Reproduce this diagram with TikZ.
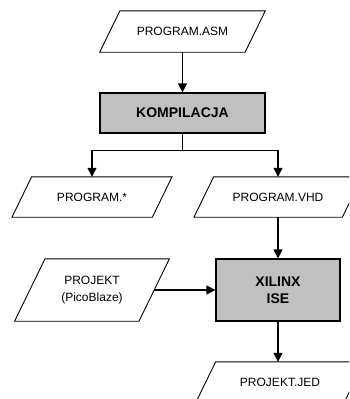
\documentclass[tikz,border=0pt]{standalone}
\usepackage{fontspec}
\setmainfont{Liberation Sans}
\usepackage{tikz}
\usetikzlibrary{arrows.meta,positioning,calc}

\definecolor{szary}{RGB}{192,192,192}
\tikzset{
  plik/.style={rectangle, inner sep=0pt, minimum height=40pt, align=center,
    font=\fontsize{12}{16.5}\selectfont,
    append after command={\pgfextra{\let\plikn\tikzlastnode
      \draw[line width=0.9pt] let \p1=($(\plikn.north east)-(\plikn.south west)$),
        \n1={0.244*\y1} in
        ($(\plikn.south west)+(-\n1,0pt)$) -- ($(\plikn.north west)+(\n1,0pt)$)
        -- ($(\plikn.north east)+(\n1,0pt)$) -- ($(\plikn.south east)+(-\n1,0pt)$)
        -- cycle;}}},
  krok/.style={rectangle, draw, fill=szary, line width=1.2pt, inner sep=0pt,
    align=center, font=\bfseries\fontsize{14}{17}\selectfont},
  strz/.style={-{Triangle[length=9pt,width=9pt]}, line width=1.2pt}
}

\begin{document}
\begin{tikzpicture}[x=1pt,y=-1pt]
      \useasboundingbox (0,0) rectangle (349,399);
      \clip (0,0) rectangle (349,399);
      \node[plik,minimum width=145pt,minimum height=41pt] (asm) at (182.5,31.5) {PROGRAM.ASM};
      \node[krok,minimum width=165pt,minimum height=40pt] (komp) at (182.5,113) {KOMPILACJA};
      \node[plik,minimum width=140pt] (prog) at (92,197) {PROGRAM.*};
      \node[plik,minimum width=148pt] (vhd) at (278,197) {PROGRAM.VHD};
      \node[krok,minimum width=124pt,minimum height=62pt] (xil) at (278,290) {XILINX\\ISE};
      \node[plik,minimum width=124pt,minimum height=62pt] (proj) at (92,290) {PROJEKT\\(PicoBlaze)};
      \node[plik,minimum width=148pt] (jed) at (280,382) {PROJEKT.JED};
      % polaczenia
      \draw[strz] (asm) -- (komp);
      \draw[line width=1.2pt] (komp.south) -- ++(0,17) coordinate (rozg);
      \draw[strz] (rozg) -| (prog.north);
      \draw[strz] (rozg) -| (vhd.north);
      \draw[strz] (vhd) -- (xil);
      \draw[strz] (proj.east) -- (xil.west);
      \draw[strz] (xil) -- (xil |- jed.north);
    \end{tikzpicture}
\end{document}
